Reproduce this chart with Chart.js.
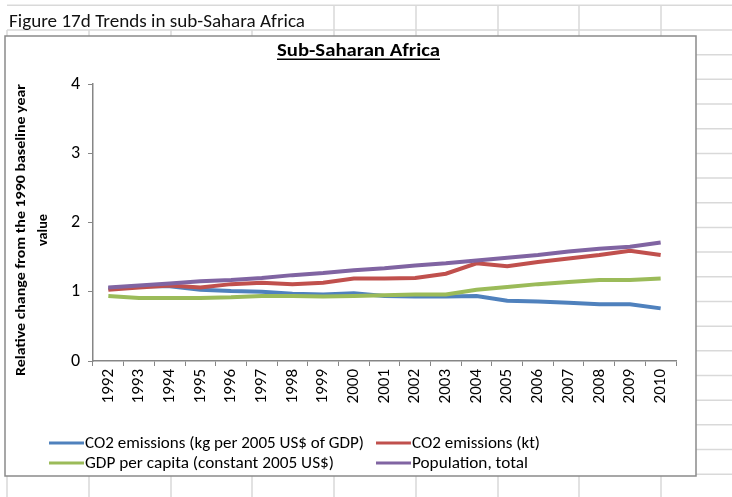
<!DOCTYPE html>
<html>
<head>
<meta charset="utf-8">
<script src="https://cdn.jsdelivr.net/npm/chart.js@4"></script>
<style>
  html, body { margin: 0; padding: 0; background: #fff; }
  #wrap { width: 732px; height: 497px; }
</style>
</head>
<body>
<div id="wrap"><canvas id="mycanvas" width="732" height="497"></canvas></div>
<script>
// values (relative to 1990 = 1)
var years = ['1992','1993','1994','1995','1996','1997','1998','1999','2000','2001',
             '2002','2003','2004','2005','2006','2007','2008','2009','2010'];
var co2Intensity = [1.05, 1.08, 1.08, 1.03, 1.01, 1.00, 0.97, 0.96, 0.98, 0.94,
                    0.93, 0.93, 0.94, 0.87, 0.86, 0.84, 0.82, 0.82, 0.76];
var co2Kt = [1.03, 1.06, 1.09, 1.06, 1.11, 1.13, 1.11, 1.13, 1.19, 1.19,
             1.20, 1.26, 1.41, 1.37, 1.43, 1.48, 1.53, 1.59, 1.53];
var gdpPerCapita = [0.94, 0.91, 0.91, 0.91, 0.92, 0.94, 0.94, 0.93, 0.94, 0.95,
                    0.96, 0.96, 1.03, 1.07, 1.11, 1.14, 1.17, 1.17, 1.19];
var population = [1.06, 1.09, 1.12, 1.15, 1.17, 1.20, 1.24, 1.27, 1.31, 1.34,
                  1.38, 1.41, 1.45, 1.49, 1.53, 1.58, 1.62, 1.65, 1.71];
var yTicks = [0, 1, 2, 3, 4];

var seriesNames = ['CO2 emissions (kg per 2005 US$ of GDP)', 'CO2 emissions (kt)',
                   'GDP per capita (constant 2005 US$)', 'Population, total'];
var seriesColors = ['#4F81BD', '#C0504D', '#9BBB59', '#8064A2'];

var FONT = 'Carlito, Lato, "Liberation Sans", sans-serif';

// draw text squeezed/stretched to a given width
function fitText(ctx, text, x, y, width, font) {
  ctx.font = font;
  var w = ctx.measureText(text).width;
  ctx.save();
  ctx.translate(x, y);
  ctx.scale(width / w, 1);
  ctx.textAlign = 'left';
  ctx.fillText(text, 0, 0);
  ctx.restore();
}

var sheetPlugin = {
  id: 'sheet',
  beforeDraw: function(chart) {
    var ctx = chart.ctx;
    ctx.save();
    ctx.fillStyle = '#fff';
    ctx.fillRect(0, 0, 732, 497);
    // spreadsheet cells
    ctx.strokeStyle = '#d9d9d9';
    ctx.lineWidth = 1.5;
    var cols = [7, 89, 171, 252, 334, 416, 498, 579, 661];
    for (var r = 5.3; r < 497; r += 24.68) {
      ctx.beginPath(); ctx.moveTo(7, r); ctx.lineTo(732, r); ctx.stroke();
    }
    cols.forEach(function(c) {
      var top = (c < 300) ? 30 : 5;
      ctx.beginPath(); ctx.moveTo(c, top); ctx.lineTo(c, 497); ctx.stroke();
    });
    // header cell text
    ctx.fillStyle = '#111';
    ctx.textBaseline = 'alphabetic';
    fitText(ctx, 'Figure 17d Trends in sub-Sahara Africa', 9, 27, 296, '18px ' + FONT);
    // chart frame
    ctx.fillStyle = '#fff';
    ctx.fillRect(5, 36, 691, 440);
    ctx.strokeStyle = '#8a8a8a';
    ctx.lineWidth = 1.5;
    ctx.strokeRect(5, 36, 691, 440);
    // title
    ctx.fillStyle = '#000';
    fitText(ctx, 'Sub-Saharan Africa', 277, 56, 163, 'bold 17px ' + FONT);
    ctx.fillRect(277, 58.5, 163, 1.5);
    // y axis title
    ctx.save();
    ctx.translate(21, 230);
    ctx.rotate(-Math.PI / 2);
    ctx.textBaseline = 'middle';
    fitText(ctx, 'Relative change from the 1990 baseline year', -146, 0, 292, 'bold 14px ' + FONT);
    fitText(ctx, 'value', -16, 22, 32, 'bold 14px ' + FONT);
    ctx.restore();
    // legend
    var pos = [[49, 443], [376, 443], [49, 463], [376, 463]];
    var widths = [279, 128, 249, 116];
    chart.data.datasets.forEach(function(ds, i) {
      var p = pos[i];
      ctx.strokeStyle = ds.borderColor;
      ctx.lineWidth = 3;
      ctx.beginPath(); ctx.moveTo(p[0], p[1]); ctx.lineTo(p[0] + 35, p[1]); ctx.stroke();
      ctx.fillStyle = '#000';
      ctx.textBaseline = 'middle';
      fitText(ctx, ds.label, p[0] + 36, p[1] + 1, widths[i], '16px ' + FONT);
    });
    ctx.restore();
  }
};

var allData = [co2Intensity, co2Kt, gdpPerCapita, population];
var datasets = allData.map(function(d, i) {
  return {
    label: seriesNames[i],
    data: d,
    borderColor: seriesColors[i],
    backgroundColor: seriesColors[i],
    borderWidth: 4,
    pointRadius: 0,
    tension: 0,
    fill: false,
    order: 3 - i
  };
});

var ctx = document.getElementById('mycanvas');
var lineGraph = new Chart(ctx, {
  type: 'line',
  data: { labels: years, datasets: datasets },
  plugins: [sheetPlugin],
  options: {
    responsive: false,
    animation: false,
    devicePixelRatio: 1,
    layout: { padding: { left: 0, top: 84, right: 56, bottom: 0 } },
    plugins: { legend: { display: false }, tooltip: { enabled: false }, title: { display: false } },
    scales: {
      x: {
        offset: true,
        grid: { offset: true, drawOnChartArea: false, drawTicks: true, tickLength: 5, color: '#868686' },
        border: { display: true, color: '#868686', width: 1.5 },
        ticks: { maxRotation: 90, minRotation: 90, padding: 3, color: '#000', font: { family: FONT, size: 17 } },
        afterFit: function(scale) { scale.height = 136; }
      },
      y: {
        min: 0,
        max: 4,
        afterBuildTicks: function(scale) { scale.ticks = yTicks.map(function(v) { return { value: v }; }); },
        grid: { drawOnChartArea: false, drawTicks: true, tickLength: 5, color: '#868686' },
        border: { display: true, color: '#868686', width: 1.5 },
        ticks: { padding: 8, color: '#000', font: { family: FONT, size: 18 } },
        afterFit: function(scale) { scale.width = 93; }
      }
    }
  }
});
</script>
</body>
</html>
